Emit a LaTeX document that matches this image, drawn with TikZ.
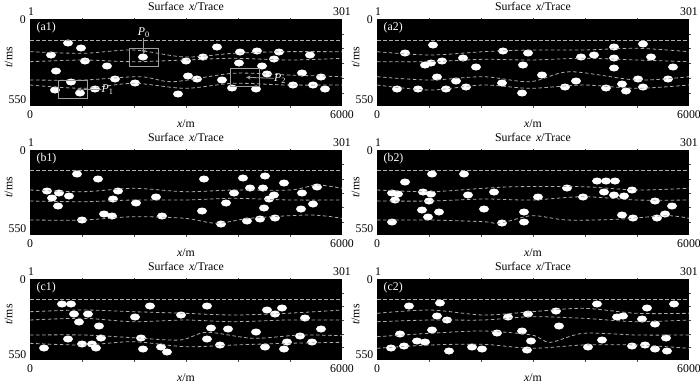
\documentclass[tikz,border=0pt]{standalone}
\usepackage{fontspec}
\setmainfont{Liberation Serif}
\usetikzlibrary{arrows.meta}

\begin{document}
\begin{tikzpicture}[x=1pt, y=-1pt,
    font=\fontsize{11.8}{14}\selectfont,
    axlabel/.style={inner sep=0pt},
    tick/.style={gray!60!black, line width=0.4pt},
    horizon/.style={gray!65, line width=0.8pt, dash pattern=on 3.5pt off 2.5pt},
    blob/.style={white},
    pbox/.style={draw=gray!75, line width=1pt, minimum width=29pt, minimum height=18pt, inner sep=0pt},
    parrow/.style={gray!75, line width=0.8pt, -{Stealth[length=4.5pt, width=4pt]}},
    plabel/.style={text=white, inner sep=0pt} ]
    \useasboundingbox (0,0) rectangle (700,386);

    % --- panel frames and axis texts ---
    \foreach \pl/\pt/\pb/\pn in {30/19/106/a1, 377/19/106/a2, 30/150/235/b1,
                                  377/150/235/b2, 30/279/360/c1, 377/279/360/c2}{
        \pgfmathsetmacro\pr{\pl+312}
        \pgfmathsetmacro\pc{\pl+156}
        \pgfmathsetmacro\ph{\pb-\pt}
        \fill[black] (\pl,\pt) rectangle (\pr,\pb);
        \foreach \k in {1,...,5}{
            \draw[tick] (\pl+\k*52,\pt) -- ++(0,-1.5);
            \draw[tick] (\pl+\k*52,\pb) -- ++(0,1.5);
            \draw[tick] (\pr,{\pt+\k*\ph/5.9}) -- ++(1.5,0);
        }
        \node[axlabel] (title-\pn) at (\pc,\pt-12.5) {Surface \,\textit{x}/Trace};
        \node[axlabel] (tr1-\pn) at (\pl+1,\pt-7.5) {1};
        \node[axlabel] (tr301-\pn) at (\pr,\pt-7.5) {301};
        \node[axlabel, anchor=east] (t0-\pn) at (\pl-4,\pt+1) {0};
        \node[axlabel, anchor=east] (t550-\pn) at (\pl-3.5,{\pt+0.93*\ph}) {550};
        \node[axlabel, rotate=90] (tlab-\pn) at (\pl-21.5,{\pt+0.44*\ph}) {\textit{t}/ms};
        \node[axlabel] (x0-\pn) at (\pl,\pb+8.5) {0};
        \node[axlabel] (x6000-\pn) at (\pr,\pb+8.5) {6000};
        \node[axlabel] (xlab-\pn) at (\pc,\pb+18) {\textit{x}/m};
        \node[axlabel, anchor=west, text=white] (tag-\pn) at (\pl+6.5,\pt+8.5) {(\pn)};
    }

    % --- anomalies (a1, a2) ---
    \foreach \x/\y in {68/43, 81/48, 51/55, 85/61, 56/71, 107/66, 143/57, 71/82,
        115/79, 135/83, 55/90, 80/93, 95/89, 178/94, 186/61, 203/57, 217/47,
        188/76, 197/79, 222/80, 232/88, 240/52, 239/63, 257/51, 262/66, 267/74,
        256/89, 279/52, 274/59, 302/73, 310/55, 321/77, 293/85, 313/85, 325/89,
        405/53, 433/45, 425/65, 431/63, 442/61, 463/58, 476/67, 437/77, 456/81,
        397/89, 418/89, 446/89, 466/87, 503/51, 528/53, 523/65, 542/75, 502/83,
        522/93, 565/87, 576/81, 581/57, 594/55, 614/47, 614/58, 614/68, 606/88,
        622/84, 626/91, 643/44, 651/57, 638/79, 643/87, 668/79, 673/67}
        \fill[blob] (\x,\y) ellipse (5 and 3.5);

    % --- anomalies (b1, b2) ---
    \foreach \x/\y in {77/174, 98/179, 47/191, 59/193, 52/198, 69/196, 58/206,
        118/191, 113/199, 136/203, 156/197, 104/214, 112/216, 82/220, 162/216,
        204/179, 202/211, 226/203, 221/224, 234/193, 243/178, 250/188, 247/221,
        260/219, 265/176, 263/188, 274/195, 269/199, 264/208, 275/218, 284/183,
        302/193, 301/209, 317/187, 313/204,
        405/182, 432/174, 464/174, 392/193, 398/194, 395/200, 423/192, 431/194,
        429/201, 468/195, 494/192, 422/210, 428/217, 439/212, 484/209, 392/222,
        502/223, 524/212, 524/222, 538/197, 567/188, 583/197, 597/181, 606/181,
        615/181, 604/192, 614/195, 624/196, 632/190, 622/215, 633/218, 655/201,
        672/206, 665/214, 657/218}
        \fill[blob] (\x,\y) ellipse (5 and 3.5);

    % --- anomalies (c1, c2) ---
    \foreach \x/\y in {62/304, 71/304, 74/314, 88/314, 79/322, 99/326, 68/339,
        82/344, 92/344, 96/348, 101/338, 44/348, 150/306, 135/317, 141/338,
        143/349, 161/347, 167/352, 181/315, 207/306, 211/328, 228/329, 207/339,
        220/345, 256/332, 267/310, 275/314, 282/308, 305/318, 321/329, 300/336,
        312/342, 287/342, 265/347, 284/349,
        409/306, 440/303, 437/316, 447/320, 432/330, 400/334, 391/348, 404/346,
        417/341, 425/342, 449/351, 472/347, 482/349, 497/333, 508/317, 528/314,
        522/331, 531/341, 527/350, 556/311, 559/326, 588/347, 597/304, 602/340,
        617/317, 623/316, 632/346, 642/319, 647/308, 645/345, 655/324, 655/349,
        666/338, 667/351, 674/304}
        \fill[blob] (\x,\y) ellipse (5 and 3.5);

    % --- layer boundaries ---
    \foreach \pl/\yy in {30/40, 377/40, 30/170, 377/170, 30/299.3, 377/299.3}
        \draw[horizon] (\pl,\yy) -- ++(312,0);

    % a1
    \draw[horizon] plot[smooth] coordinates {(30,51.7) (83.3,53.3) (133.3,50) (185,57) (233.3,53.3) (283.3,51.7) (342,51.7)};
    \draw[horizon] plot[smooth] coordinates {(30,61.7) (83.3,60) (133.3,61.7) (185,60) (233.3,58.3) (290,60) (342,58.3)};
    \draw[horizon] plot[smooth] coordinates {(30,80) (83.3,80) (140,76.7) (173.3,81.7) (233.3,73.3) (286.7,75) (342,76.7)};
    \draw[horizon] plot[smooth] coordinates {(30,85) (83.3,88.3) (133.3,83.3) (185,88.3) (233.3,83.3) (286.7,85) (342,85)};
    % a2
    \draw[horizon] plot[smooth] coordinates {(377,51.7) (430,55) (483.3,51.7) (530,50) (583.3,50) (636.7,48.3) (689,51.7)};
    \draw[horizon] plot[smooth] coordinates {(377,61.7) (430,61.7) (483.3,59.3) (530,60) (583.3,58.3) (636.7,60) (689,61.7)};
    \draw[horizon] plot[smooth] coordinates {(377,76.7) (430,80) (483.3,76.7) (530,81.7) (570,71.7) (636.7,80) (689,76.7)};
    \draw[horizon] plot[smooth] coordinates {(377,85) (430,90) (483.3,85) (530,88.3) (583.3,85) (636.7,88.3) (689,85)};
    % b1
    \draw[horizon] plot[smooth] coordinates {(30,190) (83.3,191.7) (133.3,188.3) (185,191.7) (233.3,190) (290,190) (316.7,185) (342,188.3)};
    \draw[horizon] plot[smooth] coordinates {(30,201) (83.3,201.7) (133.3,200) (185,200) (233.3,198.3) (290,200) (342,200)};
    \draw[horizon] plot[smooth] coordinates {(30,220) (83.3,220) (133.3,216.7) (185,218.3) (216.7,223.3) (250,218.3) (310,215) (342,218.3)};
    % b2
    \draw[horizon] plot[smooth] coordinates {(377,190) (430,191.7) (483.3,188.3) (516.7,186.7) (583.3,186.7) (636.7,190) (689,188.3)};
    \draw[horizon] plot[smooth] coordinates {(377,201) (430,201) (483.3,199) (531.7,200) (583.3,196.7) (636.7,200) (689,200)};
    \draw[horizon] plot[smooth] coordinates {(377,220) (430,220) (483.3,221.7) (500,223.3) (531.7,215.7) (566.7,220) (616.7,219.3) (666.7,215.7) (689,218.3)};
    % c1
    \draw[horizon] plot[smooth] coordinates {(30,311.7) (83.3,310) (133.3,311.7) (185,313.3) (233.3,315) (286.7,313.3) (342,310)};
    \draw[horizon] plot[smooth] coordinates {(30,320) (83.3,318.3) (133.3,321.7) (185,320) (233.3,321.7) (286.7,320) (342,320)};
    \draw[horizon] plot[smooth] coordinates {(30,335) (83.3,335) (133.3,337.7) (180,340) (206.7,332.3) (253.3,338.3) (300,335) (342,335.7)};
    \draw[horizon] plot[smooth] coordinates {(30,343.3) (83.3,345) (133.3,341.7) (185,346.7) (233.3,345) (286.7,343.3) (342,342.3)};
    % c2
    \draw[horizon] plot[smooth] coordinates {(377,313.3) (430,310) (483.3,315) (531.7,311.7) (583.3,308.3) (636.7,313.3) (689,313.3)};
    \draw[horizon] plot[smooth] coordinates {(377,321.7) (430,320) (483.3,320) (531.7,316.7) (583.3,318.3) (636.7,321.7) (689,320)};
    \draw[horizon] plot[smooth] coordinates {(377,336.7) (430,333.3) (483.3,331) (531.7,335) (550,342.3) (583.3,333.3) (636.7,335) (689,335)};
    \draw[horizon] plot[smooth] coordinates {(377,348.3) (430,345) (483.3,344.3) (531.7,348.3) (583.3,345) (636.7,345) (689,348.3)};

    % --- selected points ---
    \node[pbox] (boxP0) at (143.8,57.2) {};
    \node[pbox] (boxP1) at (73.3,89.2) {};
    \node[pbox] (boxP2) at (245.3,77.2) {};
    \node[plabel] (lblP0) at (143.8,33) {\textit{P}\textsubscript{0}};
    \node[plabel] (lblP1) at (107.5,89.5) {\textit{P}\textsubscript{1}};
    \node[plabel] (lblP2) at (280,78.5) {\textit{P}\textsubscript{2}};
    \coordinate (tipP0) at (143.8,54);
    \coordinate (tipP1) at (77,89.3);
    \coordinate (tipP2) at (246,77.3);
    \draw[parrow] (lblP0) -- (tipP0);
    \draw[parrow] (lblP1) -- (tipP1);
    \draw[parrow] (lblP2) -- (tipP2);
\end{tikzpicture}
\end{document}
